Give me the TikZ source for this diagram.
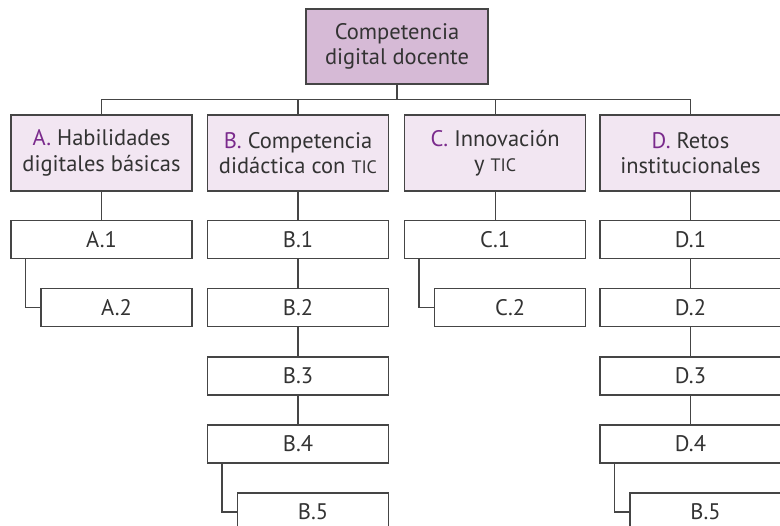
\documentclass[tikz,border=0pt]{standalone}
\usepackage{fontspec}
\setmainfont{PT Sans}
\definecolor{topfill}{HTML}{D6BAD6}
\definecolor{midfill}{HTML}{F2E6F2}
\definecolor{lett}{HTML}{7A2A8C}
\definecolor{linec}{HTML}{454545}
\newcommand{\tic}{{\fontsize{18}{18}\selectfont TIC}}
\newcommand{\lt}[1]{\textcolor{lett}{#1}}
\tikzset{
  base/.style={draw=linec, line width=1.4pt, rectangle, inner sep=0pt, align=center,
    font=\fontsize{22.5}{25.5}\selectfont, text=black!80},
  topbox/.style={base, fill=topfill, minimum width=182pt, minimum height=75pt},
  catbox/.style={base, fill=midfill, minimum width=181pt, minimum height=76pt},
  itembox/.style={base, fill=white, minimum width=181pt, minimum height=38pt},
  subbox/.style={base, fill=white, minimum width=151pt, minimum height=38pt},
  conn/.style={draw=linec, line width=1.4pt},
}
\begin{document}
\begin{tikzpicture}[x=1pt,y=-1pt]
\useasboundingbox (0,0) rectangle (780,526);
\clip (0,0) rectangle (780,526);
\node[topbox] (top) at (397,46.5) {Competencia\\digital docente};
\node[catbox] (A) at (101.5,153) {\lt{A.} Habilidades\\digitales básicas};
\node[catbox] (B) at (298,153) {\lt{B.} Competencia\\didáctica con \tic};
\node[catbox] (C) at (495.2,153) {\lt{C.} Innovación\\y \tic};
\node[catbox] (D) at (690.5,153) {\lt{D.} Retos\\institucionales};
\coordinate (bus) at (0,99.5);
\draw[conn] (top.south) -- (top.south |- bus);
\draw[conn] (A.north) -- (A.north |- bus) -- (D.north |- bus) -- (D.north);
\draw[conn] (B.north) -- (B.north |- bus);
\draw[conn] (C.north) -- (C.north |- bus);
% A column
\node[itembox] (A1) at (101.5,239.7) {A.1};
\node[subbox] (A2) at (116.5,307.8) {A.2};
% B column
\node[itembox] (B1) at (298,239.7) {B.1};
\node[itembox] (B2) at (298,307.8) {B.2};
\node[itembox] (B3) at (298,375.9) {B.3};
\node[itembox] (B4) at (298,444) {B.4};
\node[subbox] (B5) at (313,512.1) {B.5};
% C column
\node[itembox] (C1) at (495.2,239.7) {C.1};
\node[subbox] (C2) at (510.2,307.8) {C.2};
% D column
\node[itembox] (D1) at (690.5,239.7) {D.1};
\node[itembox] (D2) at (690.5,307.8) {D.2};
\node[itembox] (D3) at (690.5,375.9) {D.3};
\node[itembox] (D4) at (690.5,444) {D.4};
\node[subbox] (D5) at (705.5,512.1) {B.5};
% vertical links
\draw[conn] (A.south) -- (A1.north);
\draw[conn] (B.south) -- (B1.north);
\draw[conn] (C.south) -- (C1.north);
\draw[conn] (D.south) -- (D1.north);
\draw[conn] (B1) -- (B2);
\draw[conn] (B2) -- (B3);
\draw[conn] (B3) -- (B4);
\draw[conn] (D1) -- (D2);
\draw[conn] (D2) -- (D3);
\draw[conn] (D3) -- (D4);
% elbow links
\draw[conn] ([xshift=15pt]A1.south west) |- (A2.west);
\draw[conn] ([xshift=15pt]B4.south west) |- (B5.west);
\draw[conn] ([xshift=15pt]C1.south west) |- (C2.west);
\draw[conn] ([xshift=15pt]D4.south west) |- (D5.west);
\end{tikzpicture}
\end{document}
